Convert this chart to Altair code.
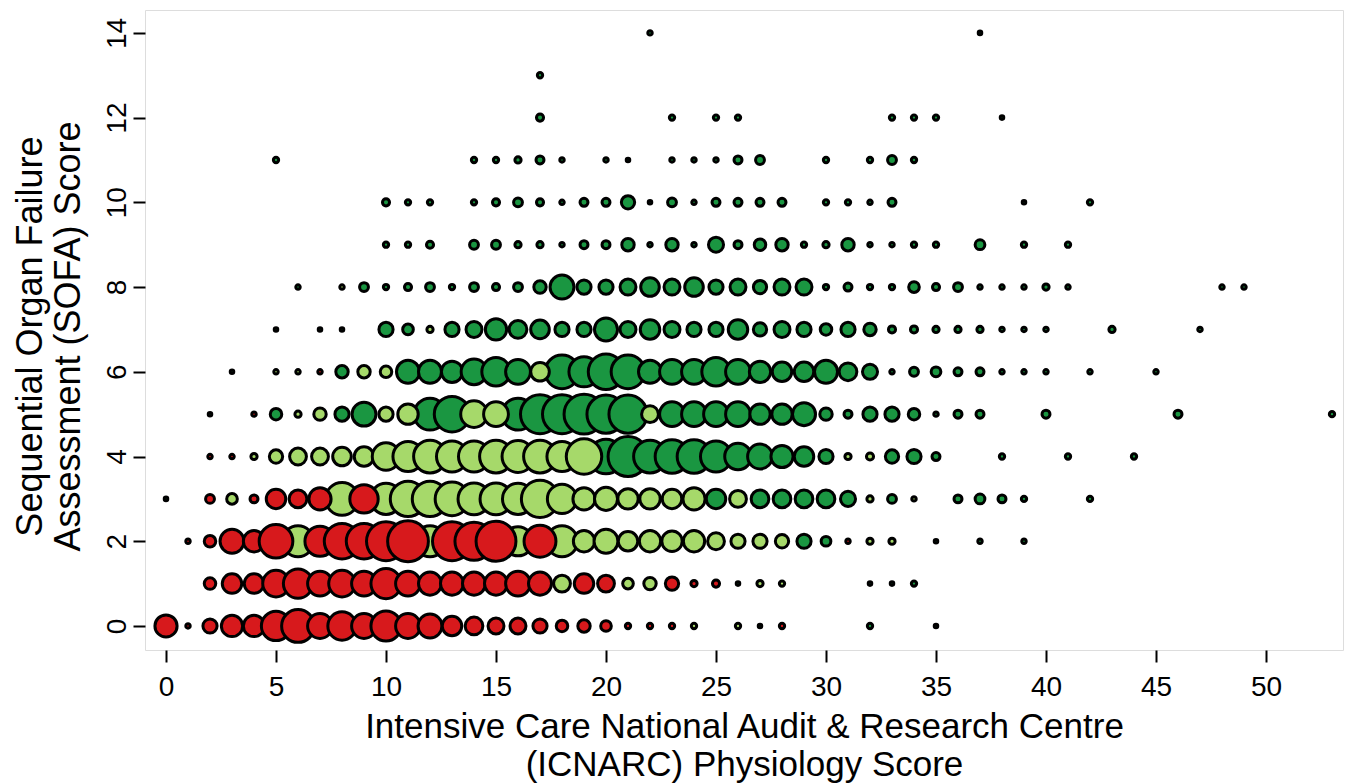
import math
import altair as alt
import pandas as pd

# ---- data: (ICNARC score, colour group, bubble diameter estimate) per SOFA row ----
# groups: "low" = red, "mid" = light green, "high" = dark green
row0 = [(0,"low",28),(1,"low",8),(2,"low",19),(3,"low",27),(4,"low",27),(5,"low",36),(6,"low",40),
        (7,"low",31),(8,"low",35),(9,"low",31),(10,"low",37),(11,"low",31),(12,"low",30),(13,"low",25),
        (14,"low",23),(15,"low",21),(16,"low",21),(17,"low",19),(18,"low",16),(19,"low",17),(20,"low",15),
        (21,"low",9),(22,"low",9),(23,"low",9),(24,"mid",9),(26,"mid",9),(27,"high",7),(28,"low",9),
        (32,"high",9),(35,"high",7)]
row1 = [(2,"low",16),(3,"low",25),(4,"low",25),(5,"low",33),(6,"low",36),(7,"low",31),(8,"low",33),
        (9,"low",31),(10,"low",37),(11,"low",31),(12,"low",29),(13,"low",29),(14,"low",29),(15,"low",29),
        (16,"low",31),(17,"low",29),(18,"mid",22),(19,"low",25),(20,"low",22),(21,"mid",15),(22,"mid",17),
        (23,"low",18),(24,"low",10),(25,"low",11),(26,"high",7),(27,"mid",10),(28,"mid",9),
        (32,"high",7),(33,"high",7),(34,"high",9)]
row2 = [(1,"low",8),(2,"low",16),(3,"low",30),(4,"low",27),(5,"low",41),(6,"mid",38),(7,"low",37),
        (8,"low",43),(9,"low",43),(10,"low",47),(11,"low",49),(12,"mid",38),(13,"low",47),(14,"low",46),
        (15,"low",48),(16,"mid",36),(17,"low",39),(18,"mid",38),(19,"mid",27),(20,"mid",30),(21,"mid",25),
        (22,"mid",27),(23,"mid",26),(24,"mid",27),(25,"mid",22),(26,"mid",19),(27,"mid",19),(28,"mid",18),
        (29,"high",19),(30,"high",14),(31,"low",8),(32,"mid",10),(33,"mid",10),(35,"high",7),
        (37,"high",8),(39,"high",8)]
row3 = [(0,"high",7),(2,"low",13),(3,"mid",15),(4,"low",12),(5,"low",25),(6,"low",23),(7,"low",28),
        (8,"mid",40),(9,"low",35),(10,"mid",38),(11,"mid",43),(12,"mid",43),(13,"mid",41),(14,"mid",39),
        (15,"mid",39),(16,"mid",38),(17,"mid",45),(18,"mid",36),(19,"mid",28),(20,"mid",29),(21,"mid",26),
        (22,"mid",26),(23,"mid",25),(24,"mid",28),(25,"high",25),(26,"mid",22),(27,"high",23),
        (28,"high",23),(29,"high",23),(30,"high",23),(31,"high",20),(32,"mid",10),(33,"high",13),
        (34,"mid",8),(36,"high",12),(37,"high",14),(38,"high",12),(39,"high",9),(42,"high",9)]
row4 = [(2,"low",8),(3,"low",8),(4,"mid",10),(5,"mid",18),(6,"mid",22),(7,"mid",22),(8,"mid",24),
        (9,"mid",25),(10,"mid",34),(11,"mid",37),(12,"mid",40),(13,"mid",38),(14,"mid",38),(15,"mid",40),
        (16,"mid",39),(17,"mid",40),(18,"mid",37),(19,"mid",43),(20,"high",42),(21,"high",48),
        (22,"high",40),(23,"high",41),(24,"high",41),(25,"high",38),(26,"high",33),(27,"high",31),
        (28,"high",28),(29,"high",25),(30,"high",19),(31,"mid",10),(32,"mid",11),(33,"high",18),
        (34,"high",19),(35,"high",12),(38,"high",9),(41,"high",9),(44,"high",9)]
row5 = [(2,"high",7),(4,"low",8),(5,"high",16),(6,"mid",10),(7,"mid",17),(8,"high",19),(9,"high",30),
        (10,"mid",19),(11,"mid",26),(12,"high",39),(13,"high",43),(14,"mid",33),(15,"mid",31),
        (16,"high",39),(17,"high",47),(18,"high",47),(19,"high",48),(20,"high",46),(21,"high",46),
        (22,"mid",22),(23,"high",31),(24,"high",31),(25,"high",31),(26,"high",31),(27,"high",26),
        (28,"high",26),(29,"high",29),(30,"high",17),(31,"high",12),(32,"high",19),(33,"high",19),
        (34,"high",16),(35,"high",8),(36,"high",12),(37,"high",12),(40,"high",12),(46,"high",12),
        (53,"high",9)]
row6 = [(3,"high",7),(5,"mid",8),(6,"mid",8),(7,"low",8),(8,"high",17),(9,"mid",17),(10,"mid",16),
        (11,"high",29),(12,"high",29),(13,"high",27),(14,"high",32),(15,"high",35),(16,"high",31),
        (17,"mid",24),(18,"high",41),(19,"high",37),(20,"high",43),(21,"high",41),(22,"high",29),
        (23,"high",31),(24,"high",31),(25,"high",35),(26,"high",31),(27,"high",27),(28,"high",25),
        (29,"high",25),(30,"high",29),(31,"high",23),(32,"high",20),(33,"high",8),(34,"high",13),
        (35,"high",14),(36,"high",12),(37,"high",12),(38,"high",8),(39,"high",8),(40,"high",8),
        (42,"high",8),(45,"high",8)]
row7 = [(5,"high",7),(7,"high",7),(8,"high",7),(10,"high",19),(11,"high",15),(12,"mid",10),
        (13,"high",19),(14,"high",21),(15,"high",27),(16,"high",23),(17,"high",24),(18,"high",19),
        (19,"high",19),(20,"high",29),(21,"high",21),(22,"high",25),(23,"high",21),(24,"high",19),
        (25,"high",19),(26,"high",25),(27,"high",18),(28,"high",21),(29,"high",19),(30,"high",16),
        (31,"high",19),(32,"high",17),(33,"high",11),(34,"high",11),(35,"high",10),(36,"high",10),
        (37,"high",10),(38,"high",8),(39,"high",8),(40,"high",8),(43,"high",10),(47,"high",8)]
row8 = [(6,"high",8),(8,"mid",8),(9,"high",13),(10,"high",9),(11,"high",11),(12,"high",13),
        (13,"high",9),(14,"high",13),(15,"high",11),(16,"high",13),(17,"high",17),(18,"high",30),
        (19,"high",19),(20,"high",19),(21,"high",21),(22,"high",24),(23,"high",21),(24,"high",24),
        (25,"high",19),(26,"high",21),(27,"high",18),(28,"high",21),(29,"high",21),(30,"high",9),
        (31,"high",12),(32,"high",9),(33,"high",9),(34,"high",15),(35,"high",11),(36,"high",13),
        (37,"high",8),(38,"high",8),(39,"high",8),(40,"high",10),(41,"high",8),(48,"high",8),(49,"high",8)]
row9 = [(10,"high",9),(11,"high",9),(12,"high",11),(14,"high",13),(15,"high",13),(16,"high",10),
        (17,"high",10),(18,"high",8),(19,"high",12),(20,"high",12),(21,"high",17),(22,"high",8),
        (23,"high",17),(24,"high",8),(25,"high",20),(26,"high",12),(27,"high",16),(28,"high",17),
        (29,"high",9),(30,"high",10),(31,"high",17),(32,"high",8),(33,"high",8),(34,"high",9),
        (35,"high",9),(37,"high",14),(39,"high",9),(41,"high",9)]
row10 = [(10,"high",11),(11,"high",9),(12,"high",9),(14,"high",9),(15,"high",11),(16,"high",13),
         (17,"high",11),(18,"high",8),(19,"high",12),(20,"high",12),(21,"high",18),(22,"high",7),
         (23,"high",13),(24,"high",8),(25,"high",12),(26,"high",12),(27,"high",12),(28,"high",12),
         (30,"high",9),(31,"high",9),(32,"high",8),(33,"high",12),(39,"high",7),(42,"high",9)]
row11 = [(5,"high",9),(14,"high",9),(15,"high",9),(16,"high",10),(17,"high",12),(18,"high",8),
         (20,"high",8),(21,"high",7),(23,"high",8),(24,"high",8),(25,"high",8),(26,"high",12),
         (27,"high",13),(30,"high",9),(32,"high",9),(33,"high",13),(34,"high",9)]
row12 = [(17,"high",11),(23,"high",9),(25,"high",9),(26,"high",9),(33,"high",9),(34,"high",9),
         (35,"high",9),(38,"high",7)]
row13 = [(17,"high",9)]
row14 = [(22,"high",8),(37,"high",7)]

rows = [row0, row1, row2, row3, row4, row5, row6, row7, row8, row9, row10, row11, row12, row13, row14]

group_names = ["high", "mid", "low"]          # drawing order: dark green, light green, red on top
group_colors = ["#1a9641", "#a6d96a", "#d7191c"]

x_ticks = [0, 5, 10, 15, 20, 25, 30, 35, 40, 45, 50]
y_ticks = [0, 2, 4, 6, 8, 10, 12, 14]

STROKE = 3

records = []
for sofa, row in enumerate(rows):
    for icnarc, grp, dia in row:
        records.append({"icnarc": icnarc, "sofa": sofa, "grp": grp, "dia": dia})
df = pd.DataFrame(records)
df["rank"] = df["grp"].map({g: i for i, g in enumerate(group_names)})
df = df.sort_values(["rank", "sofa", "icnarc"]).reset_index(drop=True)
df["z"] = range(len(df))

max_core = 50 - STROKE

font = "Liberation Sans"

chart = (
    alt.Chart(df)
    .transform_calculate(core=f"datum.dia - {STROKE}")
    .mark_circle(stroke="black", strokeWidth=STROKE, opacity=1)
    .encode(
        x=alt.X(
            "icnarc:Q",
            scale=alt.Scale(domain=[-0.955, 53.5], nice=False, zero=False),
            axis=alt.Axis(
                values=x_ticks,
                title=["Intensive Care National Audit & Research Centre", "(ICNARC) Physiology Score"],
                titleFontSize=35,
                titleFontWeight="normal",
                titleFont=font,
                titleColor="black",
                titleLineHeight=38,
                titleBaseline="top",
                titleY=59,
                labelFontSize=28,
                labelFont=font,
                labelColor="black",
                labelPadding=11,
                tickSize=12,
                tickWidth=2,
                tickColor="black",
                domain=False,
                grid=False,
            ),
        ),
        y=alt.Y(
            "sofa:Q",
            scale=alt.Scale(domain=[-0.567, 14.54], nice=False, zero=False),
            axis=alt.Axis(
                values=y_ticks,
                title=["Sequential Organ Failure", "Assessment (SOFA) Score"],
                titleFontSize=36,
                titleFontWeight="normal",
                titleFont=font,
                titleColor="black",
                titleLineHeight=38,
                titleAngle=270,
                titleBaseline="top",
                titleAlign="center",
                titleX=-132,
                titleY=326,
                labelFontSize=28,
                labelFont=font,
                labelColor="black",
                labelAngle=270,
                labelAlign="center",
                labelBaseline="bottom",
                labelPadding=2,
                tickSize=12,
                tickWidth=2,
                tickColor="black",
                domain=False,
                grid=False,
            ),
        ),
        color=alt.Color(
            "grp:N",
            scale=alt.Scale(domain=group_names, range=group_colors),
            legend=None,
        ),
        size=alt.Size(
            "core:Q",
            scale=alt.Scale(type="pow", exponent=2, domain=[0, max_core], nice=False, zero=True,
                            range=[0, math.pi / 4 * max_core ** 2]),
            legend=None,
        ),
        order=alt.Order("z:Q"),
    )
    .properties(
        width=1198,
        height=640,
        autosize=alt.AutoSizeParams(type="none"),
        padding={"left": 145, "top": 10, "right": 11, "bottom": 133},
    )
    .configure_view(stroke="black", strokeWidth=2)
    .configure(background="white")
)

chart.save("out.html", embed_options={"renderer": "svg", "actions": False})
